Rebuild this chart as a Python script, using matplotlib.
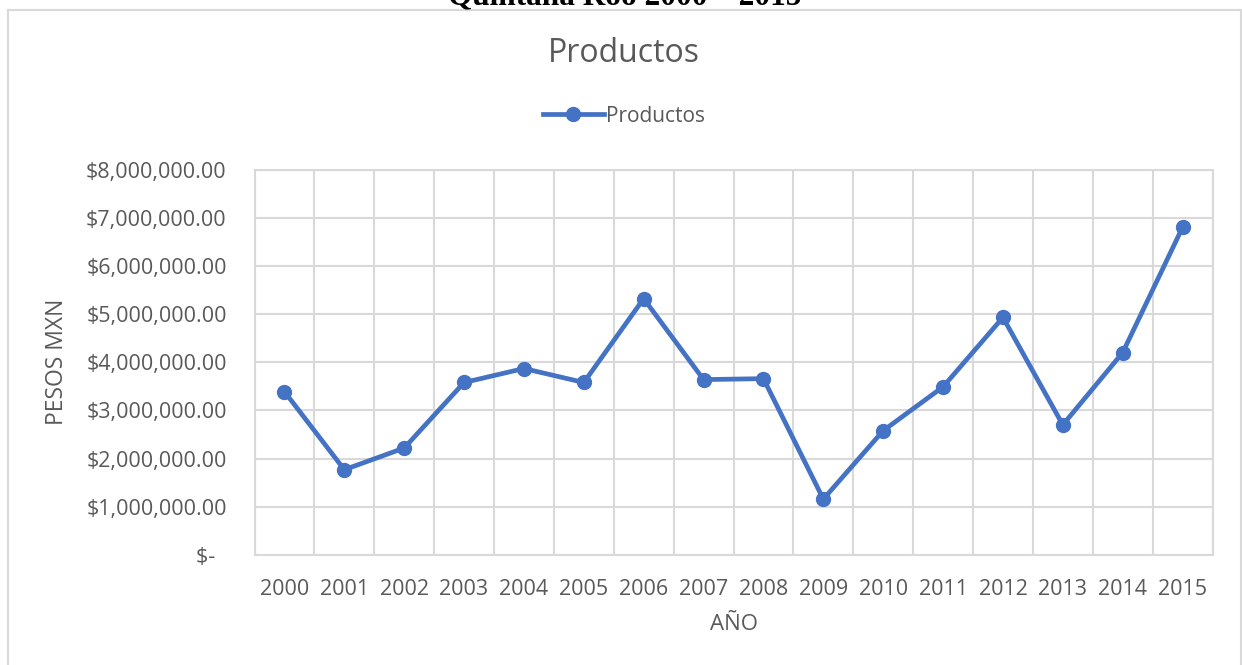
import matplotlib.pyplot as plt
from matplotlib.ticker import FuncFormatter, MultipleLocator
from matplotlib.lines import Line2D

W, H = 1242, 665
DPI = 100

years = [str(y) for y in range(2000, 2016)]
productos = [3.39e6, 1.77e6, 2.22e6, 3.58e6, 3.87e6, 3.58e6, 5.32e6, 3.64e6,
             3.66e6, 1.16e6, 2.58e6, 3.49e6, 4.93e6, 2.70e6, 4.20e6, 6.80e6]

BLUE = '#4472C4'
GREY_TXT = '#595959'
GRID = '#D9D9D9'
FONT = 'Open Sans'

plt.rcParams['font.family'] = [FONT, 'DejaVu Sans']


def px(x, y):
    """pixel coords (from top-left) to figure fraction"""
    return x / W, 1 - y / H


def money(v, pos):
    if v == 0:
        return '$-  '
    return '${:,.2f}'.format(v)


fig = plt.figure(figsize=(W / DPI, H / DPI), dpi=DPI)

# outer chart frame
fy = 1 - 10 / H
fig.add_artist(Line2D([7.5 / W, 7.5 / W], [fy, 0], color=GRID, lw=1.5,
                      transform=fig.transFigure))
fig.add_artist(Line2D([7.5 / W, 1240.5 / W], [fy, fy], color=GRID, lw=1.5,
                      transform=fig.transFigure))
fig.add_artist(Line2D([1240.5 / W, 1240.5 / W], [fy, 0], color=GRID, lw=1.5,
                      transform=fig.transFigure))

# heading of the document page, cut at the top
fig.text(*px(625, 4.5), 'Quintana Roo 2000 – 2015', ha='center', va='baseline',
         fontsize=22.5, fontweight='bold', family='Liberation Serif', color='black')

left, top, right, bottom = 254.5, 169.5, 1212.5, 555
ax = fig.add_axes([left / W, 1 - bottom / H, (right - left) / W, (bottom - top) / H])

x = list(range(len(years)))
ax.plot(x, productos, color=BLUE, lw=3.4, marker='o', ms=10, label='Productos',
        solid_capstyle='round', zorder=3)

ax.set_xlim(-0.5, len(years) - 0.5)
ax.set_ylim(0, 8e6)
ax.yaxis.set_major_locator(MultipleLocator(1e6))
ax.yaxis.set_major_formatter(FuncFormatter(money))
ax.set_xticks(x)
ax.set_xticklabels(years)
ax.set_xticks([i - 0.5 for i in range(len(years) + 1)], minor=True)

ax.grid(True, which='major', axis='y', color=GRID, lw=1.5)
ax.grid(True, which='minor', axis='x', color=GRID, lw=1.5)
ax.set_axisbelow(True)
for s in ax.spines.values():
    s.set_color(GRID)
    s.set_linewidth(1.5)

ax.tick_params(which='both', length=0)
ax.tick_params(axis='x', pad=17, labelsize=15.5, colors=GREY_TXT)
ax.tick_params(axis='y', pad=20, labelsize=15.5, colors=GREY_TXT)

ax.set_xlabel('AÑO', fontsize=16, color=GREY_TXT, labelpad=10)
ax.set_ylabel('PESOS MXN', fontsize=16.5, color=GREY_TXT, labelpad=12)

fig.text(*px(624, 53), 'Productos', ha='center', va='center', fontsize=23, color=GREY_TXT)

leg = fig.legend(handles=[Line2D([], [], color=BLUE, lw=3.4, marker='o', ms=10)],
                 labels=['Productos'], loc='center', bbox_to_anchor=px(624, 116),
                 frameon=False, fontsize=15, handlelength=2.9, handletextpad=0.1)
for t in leg.get_texts():
    t.set_color(GREY_TXT)

fig.savefig('out.png', dpi=DPI)
